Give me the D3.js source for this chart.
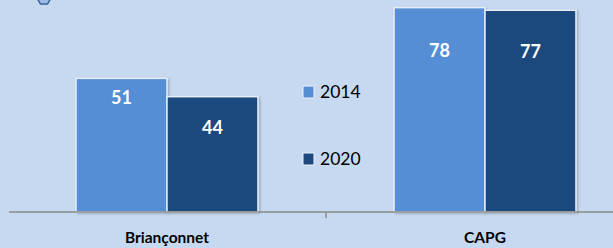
<!DOCTYPE html>
<html>
<head>
<meta charset="utf-8">
<script src="https://cdn.jsdelivr.net/npm/d3@7/dist/d3.min.js"></script>
<style>
  html, body { margin: 0; padding: 0; background: #c6d9f0; }
  svg { display: block; }
</style>
</head>
<body>
<svg id="chart" width="613" height="248"></svg>
<script>
const categories = ["Briançonnet", "CAPG"];
const seriesNames = ["2014", "2020"];
const values2014 = [51, 78];
const values2020 = [44, 77];
const colors = ["#558ed5", "#1f497d"];

const W = 613, H = 248;
const svg = d3.select("#chart");
const FONT = "Lato, 'Open Sans', sans-serif";

svg.append("rect").attr("width", W).attr("height", H).attr("fill", "#c6d9f0");

const defs = svg.append("defs");
const f = defs.append("filter").attr("id", "sh").attr("x", "-10%").attr("y", "-10%").attr("width", "130%").attr("height", "130%");
f.append("feDropShadow").attr("dx", 1.5).attr("dy", 1).attr("stdDeviation", 1).attr("flood-color", "#000").attr("flood-opacity", 0.22);

// decorative hexagon at top-left (partially cut off)
const hx = 44, hy = -2, hr = 7;
const hexPts = d3.range(6).map(i => {
  const a = Math.PI / 3 * i;
  return [hx + hr * Math.cos(a), hy + hr * Math.sin(a)];
});
svg.append("polygon").attr("points", hexPts.map(p => p.join(",")).join(" "))
  .attr("fill", "#9dbbe3").attr("stroke", "#3a64a0").attr("stroke-width", 1.5);

const x0 = d3.scaleBand().domain(categories).range([8, 644]).paddingInner(0.428).paddingOuter(0.214);
const x1 = d3.scaleBand().domain(seriesNames).range([0, x0.bandwidth()]).padding(0);
const y = d3.scaleLinear().domain([0, 90]).range([212, 212 - 2.62 * 90]);

const rows = categories.map((c, i) => ({
  cat: c,
  vals: [{s: "2014", v: values2014[i]}, {s: "2020", v: values2020[i]}]
}));

// label offsets from bar top (style)
const labelDy = {"Briançonnet": {"2014": 19, "2020": 31}, "CAPG": {"2014": 43, "2020": 41}};

const g = svg.append("g");
rows.forEach(r => {
  const gg = g.append("g").attr("transform", `translate(${x0(r.cat)},0)`);
  gg.selectAll("rect").data(r.vals).join("rect")
    .attr("x", d => x1(d.s))
    .attr("y", d => y(d.v))
    .attr("width", x1.bandwidth())
    .attr("height", d => y(0) - y(d.v))
    .attr("fill", (d, i) => colors[i])
    .attr("stroke", "#e4ecf6").attr("stroke-width", 1.5)
    .attr("filter", "url(#sh)");
  gg.selectAll("text").data(r.vals).join("text")
    .attr("x", d => x1(d.s) + x1.bandwidth() / 2)
    .attr("y", d => y(d.v) + labelDy[r.cat][d.s])
    .attr("dy", "0.36em")
    .attr("text-anchor", "middle")
    .attr("fill", "#fff")
    .attr("font-family", FONT).attr("font-weight", "bold").attr("font-size", 18)
    .text(d => d.v);
});

// axis
const axis = d3.axisBottom(x0).tickSize(0).tickFormat("");
const ax = svg.append("g").attr("transform", "translate(0,212)").call(axis);
ax.select(".domain").remove();
ax.append("line").attr("x1", 9).attr("x2", W).attr("y1", 0).attr("y2", 0)
  .attr("stroke", "#8a8a8a").attr("stroke-width", 1.5);
// tick between categories
const tickX = x0(categories[0]) + x0.bandwidth() + x0.step() * x0.paddingInner() / 2;
ax.append("line").attr("x1", tickX).attr("x2", tickX)
  .attr("y1", 0).attr("y2", 6).attr("stroke", "#8a8a8a").attr("stroke-width", 1.5);

svg.selectAll(".cat").data(categories).join("text").attr("class", "cat")
  .attr("x", d => x0(d) + x0.bandwidth() / 2)
  .attr("y", 243)
  .attr("text-anchor", "middle")
  .attr("fill", "#000")
  .attr("font-family", FONT).attr("font-weight", "bold").attr("font-size", 15.5)
  .text(d => d);

// legend
const legY = [92, 159];
const leg = svg.append("g");
seriesNames.forEach((s, i) => {
  leg.append("rect").attr("x", 303).attr("y", legY[i] - 6).attr("width", 11).attr("height", 12)
    .attr("fill", colors[i]).attr("stroke", "#eef3fa").attr("stroke-width", 1);
  leg.append("text").attr("x", 320).attr("y", legY[i]).attr("dy", "0.36em")
    .attr("font-family", FONT).attr("font-size", 17.5).attr("fill", "#000").text(s);
});
</script>
</body>
</html>
